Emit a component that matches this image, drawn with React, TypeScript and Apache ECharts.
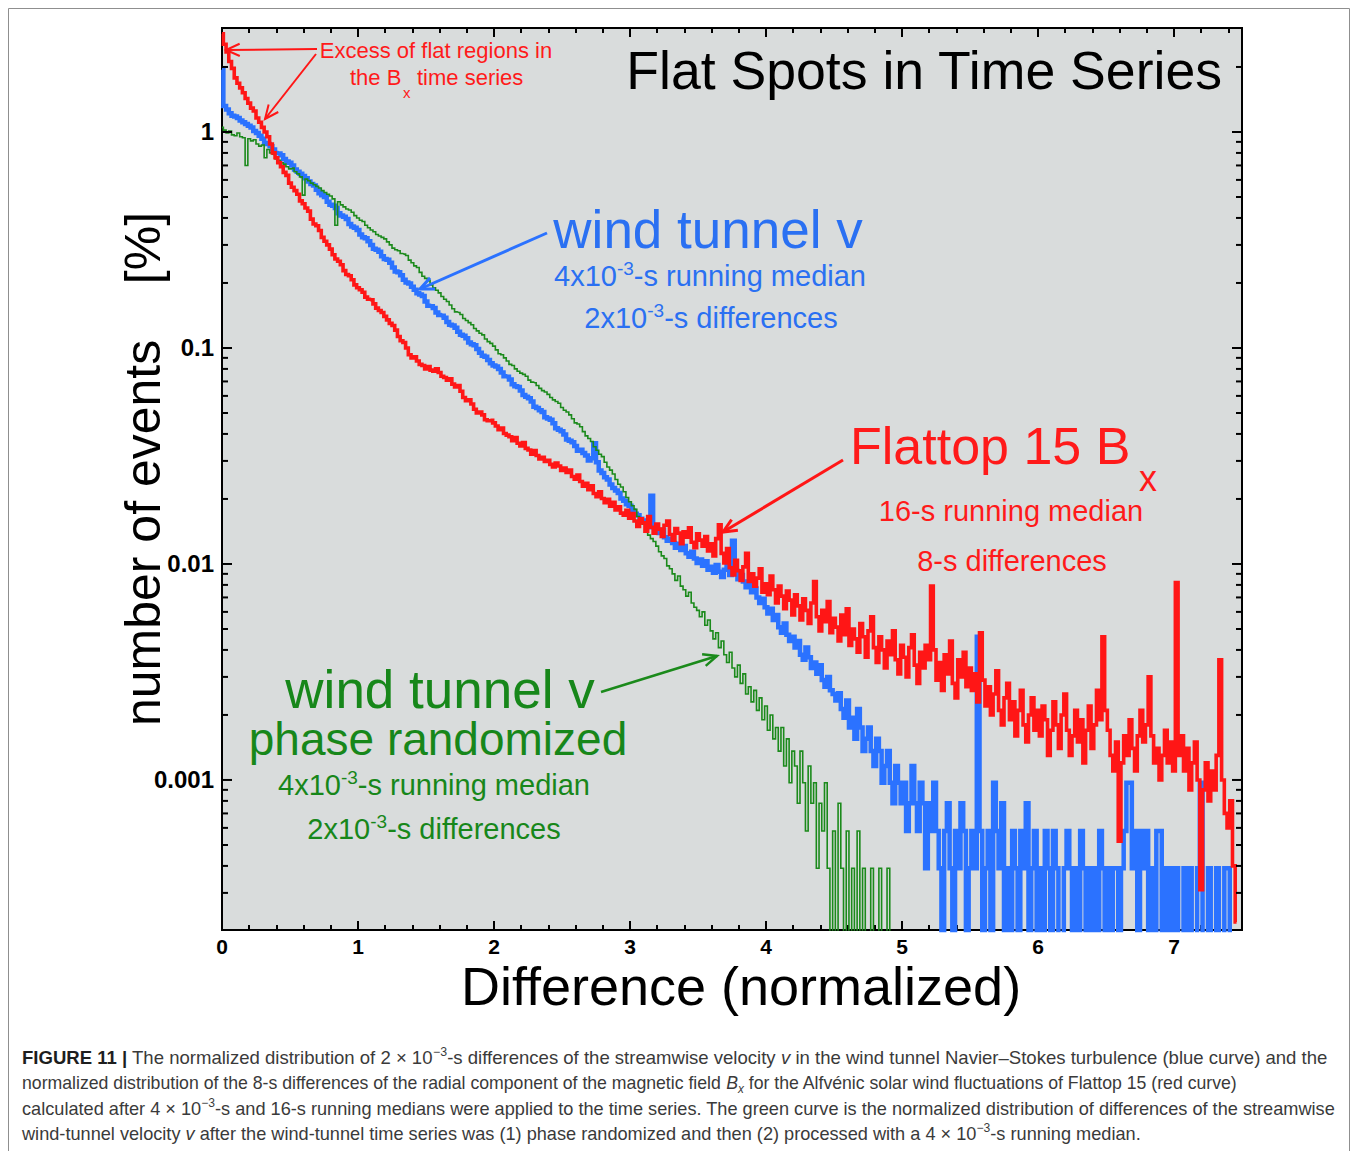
import React, { useEffect, useRef } from 'react';
import * as echarts from 'echarts';

const FONT = '"Liberation Sans", Arial, Helvetica, sans-serif';
const PAGE_W = 1358;
const PAGE_H = 1151;

// Histogram bins: value i is the bin centred at i * BIN_WIDTH
const BIN_WIDTH = 0.02;
const X_MIN = 0;
const X_MAX = 7.5;
const Y_MIN = 0.000202;
const Y_MAX = 3.03;

const xTickLabels = ['0', '1', '2', '3', '4', '5', '6', '7'];
const yTickLabels = ['0.001', '0.01', '0.1', '1'];
const yMajorTicks = [0.001, 0.01, 0.1, 1];
const yMinorTicks = [
  0.0003, 0.0004, 0.0005, 0.0006, 0.0007, 0.0008, 0.0009,
  0.002, 0.003, 0.004, 0.005, 0.006, 0.007, 0.008, 0.009,
  0.02, 0.03, 0.04, 0.05, 0.06, 0.07, 0.08, 0.09,
  0.2, 0.3, 0.4, 0.5, 0.6, 0.7, 0.8, 0.9,
  2,
];

// Flattop 15 Bx, 8-s differences, 16-s running median  [% of events]
const flattopBx = [
  2.85, 2.55, 2.35, 2.12, 1.97, 1.78, 1.68, 1.60, 1.52, 1.43, 1.36, 1.29, 1.25, 1.16, 1.11, 1.05, 1.00, 0.95, 0.88, 0.80, 0.76, 0.72, 0.69, 0.65, 0.63, 0.58,
  0.555, 0.535, 0.515, 0.48, 0.465, 0.445, 0.43, 0.395, 0.375, 0.368, 0.35, 0.325, 0.312, 0.30, 0.287, 0.27, 0.258, 0.252, 0.243, 0.228, 0.219, 0.216, 0.207, 0.196, 0.19,
  0.186, 0.181, 0.172, 0.168, 0.167, 0.160, 0.153, 0.149, 0.146, 0.140, 0.135, 0.130, 0.127, 0.121, 0.113, 0.108, 0.106, 0.100, 0.093, 0.090, 0.091, 0.087, 0.084, 0.083, 0.080,
  0.082, 0.079, 0.078, 0.080, 0.077, 0.074, 0.073, 0.071, 0.072, 0.068, 0.066, 0.067, 0.063, 0.059, 0.057, 0.0575, 0.055, 0.052, 0.050, 0.0505, 0.049, 0.0465, 0.046, 0.0462, 0.045,
  0.0435, 0.0418, 0.0426, 0.0402, 0.0395, 0.0388, 0.0372, 0.0385, 0.0362, 0.0352, 0.0365, 0.0343, 0.0337, 0.0322, 0.0335, 0.0318, 0.0306, 0.0312, 0.0298, 0.0302, 0.0289, 0.0281, 0.0293, 0.0284, 0.0271,
  0.0278, 0.0265, 0.0272, 0.0254, 0.0247, 0.0258, 0.0241, 0.0229, 0.0236, 0.0221, 0.0230, 0.0212, 0.0205, 0.0216, 0.0201, 0.0192, 0.0199, 0.0185, 0.0193, 0.0178, 0.0184, 0.0172, 0.0168, 0.0177, 0.0163,
  0.0171, 0.0158, 0.0149, 0.0162, 0.0155, 0.0142, 0.0166, 0.0148, 0.0139, 0.0153, 0.0145, 0.0134, 0.0151, 0.0158, 0.0137, 0.0129, 0.0146, 0.0139, 0.0124, 0.0141, 0.0133, 0.0147, 0.0126, 0.0119, 0.0138,
  0.0129, 0.0121, 0.0134, 0.0115, 0.0124, 0.0109, 0.0131, 0.0152, 0.0112, 0.0101, 0.0118, 0.0096, 0.0089, 0.0104, 0.0093, 0.0084, 0.0097, 0.0112, 0.0083, 0.0090, 0.0079, 0.0086, 0.0095, 0.0074, 0.0081,
  0.0072, 0.0088, 0.0076, 0.0066, 0.0079, 0.0071, 0.0062, 0.0075, 0.0068, 0.0058, 0.0072, 0.0064, 0.0055, 0.0069, 0.0061, 0.0053, 0.0066, 0.0083, 0.0057, 0.0049, 0.0061, 0.0054, 0.0067, 0.0048, 0.0056,
  0.0051, 0.0044, 0.0058, 0.0047, 0.0062, 0.0042, 0.0050, 0.0045, 0.0039, 0.0053, 0.0046, 0.0037, 0.0049, 0.0057, 0.0041, 0.0035, 0.0046, 0.0040, 0.0033, 0.0044, 0.0038, 0.0049, 0.0036, 0.0031, 0.0042,
  0.0037, 0.0030, 0.0041, 0.0047, 0.0034, 0.0028, 0.0039, 0.0033, 0.0042, 0.0036, 0.0079, 0.0040, 0.0029, 0.0035, 0.0026, 0.0038, 0.0031, 0.0044, 0.0028, 0.0024, 0.0036, 0.0030, 0.0039, 0.0027, 0.0033,
  0.0026, 0.0031, 0.0023, 0.0048, 0.0029, 0.0022, 0.0027, 0.0020, 0.0025, 0.0032, 0.0021, 0.0018, 0.0024, 0.0028, 0.0019, 0.0023, 0.0016, 0.0021, 0.0026, 0.0018, 0.0015, 0.0020, 0.0024, 0.0017, 0.0021,
  0.0016, 0.0022, 0.0019, 0.0013, 0.0017, 0.0023, 0.0018, 0.0014, 0.0020, 0.0025, 0.0017, 0.0013, 0.0016, 0.0021, 0.0015, 0.0019, 0.0012, 0.0017, 0.0022, 0.0014, 0.0018, 0.0026, 0.0019, 0.0046, 0.0021,
  0.0017, 0.0013, 0.0011, 0.0015, 0.00052, 0.0012, 0.0016, 0.0013, 0.0019, 0.0014, 0.0011, 0.0016, 0.0021, 0.0015, 0.0018, 0.0030, 0.0016, 0.0012, 0.0014, 0.0010, 0.0013, 0.0017, 0.0012, 0.0015, 0.0011,
  0.0082, 0.0013, 0.0016, 0.0011, 0.0014, 0.0009, 0.0012, 0.0015, 0.0010, 0.00031, 0.0009, 0.0012, 0.0008, 0.0011, 0.0009, 0.0013, 0.0036, 0.0010, 0.0007, 0.0006, 0.0008, 0.0004, 0.00022,
];

// Wind tunnel v, 2e-3-s differences, 4e-3-s running median
const windTunnelV = [
  1.94, 1.32, 1.27, 1.22, 1.19, 1.18, 1.16, 1.13, 1.11, 1.09, 1.07, 1.05, 1.01, 0.99, 0.96, 0.93, 0.89, 0.88, 0.86, 0.83, 0.80, 0.795, 0.78, 0.75, 0.73, 0.72,
  0.70, 0.67, 0.655, 0.64, 0.625, 0.61, 0.59, 0.575, 0.565, 0.54, 0.52, 0.51, 0.50, 0.475, 0.46, 0.455, 0.445, 0.42, 0.41, 0.405, 0.395, 0.375, 0.365, 0.36, 0.352,
  0.335, 0.326, 0.322, 0.312, 0.30, 0.288, 0.285, 0.279, 0.266, 0.258, 0.256, 0.248, 0.236, 0.226, 0.224, 0.217, 0.207, 0.201, 0.199, 0.192, 0.186, 0.179, 0.177, 0.174, 0.164,
  0.157, 0.156, 0.153, 0.146, 0.142, 0.141, 0.138, 0.132, 0.128, 0.127, 0.124, 0.119, 0.115, 0.114, 0.111, 0.106, 0.104, 0.103, 0.099, 0.095, 0.092, 0.091, 0.088, 0.085, 0.083,
  0.082, 0.080, 0.077, 0.074, 0.0735, 0.0715, 0.068, 0.0665, 0.066, 0.0635, 0.0605, 0.0595, 0.0585, 0.0565, 0.0535, 0.0528, 0.0515, 0.0505, 0.0478, 0.0472, 0.0465, 0.0448, 0.0425, 0.0418, 0.0412,
  0.0398, 0.0377, 0.0372, 0.0366, 0.0352, 0.0334, 0.0338, 0.0326, 0.0318, 0.0301, 0.0309, 0.0362, 0.0296, 0.0271, 0.0264, 0.0252, 0.0246, 0.0233, 0.0225, 0.0219, 0.0213, 0.0201, 0.0196, 0.0189, 0.0186,
  0.0177, 0.0171, 0.0168, 0.0162, 0.0156, 0.0159, 0.0148, 0.0207, 0.0151, 0.0143, 0.0139, 0.0144, 0.0133, 0.0128, 0.0131, 0.0125, 0.0119, 0.0124, 0.0116, 0.0121, 0.0112, 0.0108, 0.0114, 0.0106, 0.0101,
  0.0105, 0.0098, 0.0103, 0.0094, 0.0097, 0.0091, 0.0099, 0.0092, 0.0087, 0.0094, 0.0101, 0.0089, 0.0128, 0.0093, 0.0085, 0.0089, 0.0083, 0.0078, 0.0081, 0.0074, 0.0077, 0.0070, 0.0066, 0.0069, 0.0063,
  0.0059, 0.0062, 0.0055, 0.0058, 0.0051, 0.0048, 0.0053, 0.0047, 0.0044, 0.0046, 0.0041, 0.0044, 0.0038, 0.0036, 0.0041, 0.0037, 0.0033, 0.0035, 0.0031, 0.0034, 0.0029, 0.0027, 0.0030, 0.0026, 0.0025,
  0.00233, 0.00252, 0.00213, 0.00194, 0.00233, 0.00175, 0.00194, 0.00155, 0.00213, 0.00175, 0.00136, 0.00155, 0.00175, 0.00136, 0.00116, 0.00155, 0.00136, 0.00097, 0.00116, 0.00136, 0.00097, 0.00078, 0.00116, 0.00097, 0.00078,
  0.00097, 0.00058, 0.00078, 0.00116, 0.00078, 0.00058, 0.00097, 0.00078, 0.00039, 0.00078, 0.00058, 0.00097, 0.00058, 0.00039, 0.00019, 0.00058, 0.00078, 0.00039, 0.00019, 0.00058, 0.00039, 0.00078, 0.00058, 0.00019, 0.00039,
  0.00058, 0.00039, 0.0046, 0.00058, 0.00019, 0.00039, 0.00058, 0.00019, 0.00097, 0.00058, 0.00039, 0.00078, 0.00019, 0.00039, 0.00019, 0.00058, 0.00039, 0.00019, 0.00058, 0.00039, 0.00078, 0.00019, 0.00039, 0.00058, 0.00019,
  0.00039, 0.00019, 0.00058, 0.00039, 0.00019, 0.00058, 0.00039, 0.00019, 0.00019, 0.00039, 0.00058, 0.00039, 0.00019, 0.00039, 0.00019, 0.00058, 0.00039, 0.00019, 0.00039, 0.00019, 0.00039, 0.00019, 0.00058, 0.00039, 0.00019,
  0.00039, 0.00019, 0.00039, 0.00039, 0.00019, 0.00039, 0.00058, 0.00097, 0.00097, 0.00039, 0.00058, 0.00019, 0.00058, 0.00039, 0.00058, 0.00019, 0.00039, 0.00019, 0.00058, 0.00058, 0.00019, 0.00039, 0.00019, 0.00039, 0.00019,
  0.00039, 0.00019, 0.00019, 0.00039, 0.00019, 0.00039, 0.00019, 0.00019, 0.00039, 0.00097, 0.00019, 0.00019, 0.00039, 0.00019, 0.00019, 0.00039, 0.00019, 0.00019, 0.00039, 0.00039, 0.00019, 0.00019, 0.00019,
];

// Wind tunnel v after phase randomisation (no events beyond the last bin)
const windTunnelPhaseRandomized = [
  1.05, 1.02, 0.99, 1.01, 0.97, 0.96, 0.99, 0.95, 0.94, 0.70, 0.93, 0.91, 0.92, 0.88, 0.86, 0.87, 0.76, 0.83, 0.80, 0.79, 0.75, 0.74, 0.72, 0.71, 0.69, 0.675,
  0.68, 0.655, 0.64, 0.62, 0.51, 0.605, 0.595, 0.58, 0.57, 0.56, 0.55, 0.535, 0.525, 0.515, 0.505, 0.49, 0.37, 0.475, 0.46, 0.45, 0.44, 0.435, 0.425, 0.41, 0.40,
  0.39, 0.385, 0.37, 0.36, 0.352, 0.345, 0.335, 0.33, 0.325, 0.32, 0.31, 0.30, 0.29, 0.285, 0.282, 0.274, 0.272, 0.268, 0.255, 0.248, 0.24, 0.236, 0.224, 0.215, 0.21,
  0.205, 0.196, 0.19, 0.185, 0.18, 0.173, 0.168, 0.164, 0.158, 0.152, 0.147, 0.146, 0.143, 0.137, 0.134, 0.131, 0.128, 0.123, 0.12, 0.117, 0.115, 0.11, 0.107, 0.105, 0.102,
  0.098, 0.094, 0.093, 0.09, 0.087, 0.084, 0.083, 0.08, 0.078, 0.0765, 0.0755, 0.074, 0.071, 0.0695, 0.069, 0.067, 0.065, 0.0635, 0.0625, 0.061, 0.059, 0.0575, 0.0565, 0.0555, 0.053,
  0.0515, 0.0505, 0.049, 0.047, 0.045, 0.0445, 0.0432, 0.041, 0.0392, 0.0381, 0.0369, 0.0349, 0.0336, 0.0322, 0.0314, 0.0296, 0.0281, 0.0272, 0.0261, 0.0246, 0.0234, 0.0227, 0.0216, 0.0203, 0.0194,
  0.0186, 0.0179, 0.0166, 0.0158, 0.0153, 0.0148, 0.0136, 0.0131, 0.0127, 0.0121, 0.0114, 0.0109, 0.0106, 0.0098, 0.0095, 0.0090, 0.0084, 0.0088, 0.0079, 0.0076, 0.0071, 0.0074, 0.0066, 0.0063, 0.0061,
  0.0057, 0.0060, 0.0052, 0.0055, 0.0049, 0.0045, 0.0048, 0.0041, 0.0044, 0.0038, 0.0035, 0.0039, 0.0033, 0.0030, 0.0034, 0.0028, 0.0031, 0.0025, 0.0027, 0.0023, 0.0026, 0.0021, 0.0024, 0.0019, 0.0022,
  0.0017, 0.0020, 0.00155, 0.00175, 0.00136, 0.00175, 0.00116, 0.00155, 0.00097, 0.00136, 0.00116, 0.00078, 0.00136, 0.00097, 0.00058, 0.00116, 0.00078, 0.00097, 0.00039, 0.00078, 0.00058, 0.00097, 0.00039, 0.00019, 0.00058,
  0.00019, 0.00078, 0.00039, 0.00019, 0.00058, 0.00019, 0.00039, 0.00019, 0.00058, 0.00019, 0.00039, 0.00019, 0.00019, 0.00039, 0.00019, 0.00019, 0.00039, 0.00019, 0.00019, 0.00039, 0.00019,
];

const RED = '#ff1616';
const BLUE = '#2b72ff';
const GREEN = '#1b8a1b';
const RED_TEXT = '#ff1a1a';
const BLUE_TEXT = '#2a70f2';
const GREEN_TEXT = '#17871a';
const PLOT_BG = '#d9dcdc';

const binned = (vals: (number | null)[]) =>
  vals.map((v, i) => [Math.round(i * BIN_WIDTH * 1000) / 1000, v]);

function arrow(x1: number, y1: number, x2: number, y2: number, color: string, width = 2.5): any[] {
  const a = Math.atan2(y2 - y1, x2 - x1);
  const L = 15;
  const s = 0.42;
  return [
    { type: 'line', z: 60, shape: { x1, y1, x2, y2 }, style: { stroke: color, lineWidth: width } },
    {
      type: 'polyline',
      z: 60,
      shape: {
        points: [
          [x2 - L * Math.cos(a - s), y2 - L * Math.sin(a - s)],
          [x2, y2],
          [x2 - L * Math.cos(a + s), y2 - L * Math.sin(a + s)],
        ],
      },
      style: { stroke: color, lineWidth: width, fill: null },
    },
  ];
}

function label(text: string, x: number, y: number, size: number, color: string, align = 'left', extra: any = {}): any {
  return {
    type: 'text',
    x,
    y,
    z: 60,
    style: {
      text,
      fontSize: size,
      fontFamily: FONT,
      fill: color,
      align,
      verticalAlign: 'middle',
      textAlign: align,
      textVerticalAlign: 'middle',
      ...extra,
    },
  };
}

// text with one superscript part, e.g. 4x10^-3-s running median
function supLabel(before: string, sup: string, after: string, x: number, y: number, size: number, color: string): any {
  return {
    type: 'text',
    x,
    y,
    z: 60,
    style: {
      text: `{m|${before}}{s|${sup}}{m|${after}}`,
      fill: color,
      align: 'center',
      verticalAlign: 'middle',
      textAlign: 'center',
      textVerticalAlign: 'middle',
      rich: {
        m: { fontSize: size, fontFamily: FONT, fill: color, lineHeight: Math.round(size * 1.2) },
        s: { fontSize: Math.round(size * 0.64), fontFamily: FONT, fill: color, verticalAlign: 'top', lineHeight: Math.round(size * 0.64) },
      },
    },
  };
}

const CAPTION_SIZE = 18;
const captionRich = {
  n: { fontSize: CAPTION_SIZE, fontFamily: FONT, fill: '#3a3a3a', lineHeight: 24 },
  b: { fontSize: CAPTION_SIZE, fontFamily: FONT, fill: '#1e1e1e', fontWeight: 'bold', lineHeight: 24 },
  i: { fontSize: CAPTION_SIZE, fontFamily: FONT, fill: '#3a3a3a', fontStyle: 'italic', lineHeight: 24 },
  s: { fontSize: 12, fontFamily: FONT, fill: '#3a3a3a', verticalAlign: 'top', lineHeight: 14 },
  sb: { fontSize: 12, fontFamily: FONT, fill: '#3a3a3a', fontStyle: 'italic', verticalAlign: 'bottom', lineHeight: 12 },
};
const captionLines = [
  '{b|FIGURE 11 |}{n| The normalized distribution of 2 × 10}{s|−3}{n|-s differences of the streamwise velocity }{i|v}{n| in the wind tunnel Navier–Stokes turbulence (blue curve) and the}',
  '{n|normalized distribution of the 8-s differences of the radial component of the magnetic field }{i|B}{sb|x}{n| for the Alfvénic solar wind fluctuations of Flattop 15 (red curve)}',
  '{n|calculated after 4 × 10}{s|−3}{n|-s and 16-s running medians were applied to the time series. The green curve is the normalized distribution of differences of the streamwise}',
  '{n|wind-tunnel velocity }{i|v}{n| after the wind-tunnel time series was (1) phase randomized and then (2) processed with a 4 × 10}{s|−3}{n|-s running median.}',
];
const captionStretch = [1.031, 0.982, 1.009, 1.009];

function buildGraphics(): any[] {
  const g: any[] = [];
  // figure frame
  g.push({ type: 'rect', z: 1, shape: { x: 8.5, y: 8.5, width: 1341, height: 1160 }, style: { fill: null, stroke: '#8f8f8f', lineWidth: 1 } });

  // axis titles and headline
  g.push(label('Difference (normalized)', 741, 986, 54, '#000', 'center'));
  g.push({ ...label('number of events    [%]', 143, 469, 50, '#000', 'center'), rotation: Math.PI / 2 });
  g.push(label('Flat Spots in Time Series', 1222, 70, 53.6, '#000', 'right'));

  // excess of flat regions
  g.push(label('Excess of flat regions in', 436, 50, 22, RED_TEXT, 'center'));
  g.push(label('the B', 350, 77, 22, RED_TEXT, 'left'));
  g.push(label('x', 403, 92, 15, RED_TEXT, 'left'));
  g.push(label('time series', 417, 77, 22, RED_TEXT, 'left'));
  g.push(...arrow(317, 49, 226, 50, RED, 2));
  g.push(...arrow(316, 54, 265, 119, RED, 2));

  // wind tunnel v
  g.push(label('wind tunnel v', 708, 229, 53, BLUE_TEXT, 'center'));
  g.push(supLabel('4x10', '-3', '-s running median', 710, 276, 29, BLUE_TEXT));
  g.push(supLabel('2x10', '-3', '-s differences', 711, 318, 29, BLUE_TEXT));
  g.push(...arrow(547, 233, 420, 289, BLUE, 3));

  // Flattop 15 Bx
  g.push(label('Flattop 15 B', 850, 446, 52, RED_TEXT, 'left'));
  g.push(label('x', 1139, 478, 36, RED_TEXT, 'left'));
  g.push(label('16-s running median', 1011, 511, 29, RED_TEXT, 'center'));
  g.push(label('8-s differences', 1012, 561, 29, RED_TEXT, 'center'));
  g.push(...arrow(843, 460, 723, 532, RED, 3));

  // phase randomized wind tunnel v
  g.push(label('wind tunnel v', 440, 689, 53, GREEN_TEXT, 'center'));
  g.push(label('phase randomized', 438, 739, 46, GREEN_TEXT, 'center'));
  g.push(supLabel('4x10', '-3', '-s running median', 434, 785, 29, GREEN_TEXT));
  g.push(supLabel('2x10', '-3', '-s differences', 434, 829, 29, GREEN_TEXT));
  g.push(...arrow(601, 692, 717, 656, GREEN, 2.5));

  // caption
  captionLines.forEach((line, i) => {
    g.push({
      type: 'text',
      x: 22,
      y: 1058 + i * 25.4,
      scaleX: captionStretch[i],
      z: 60,
      style: { text: line, rich: captionRich, align: 'left', verticalAlign: 'middle', textAlign: 'left', textVerticalAlign: 'middle' },
    });
  });
  return g;
}

const yLabel = (v: number) => {
  const e = Math.log10(v);
  const r = Math.round(e);
  if (Math.abs(e - r) > 1e-6) return '';
  return yTickLabels[r + 3] ?? '';
};
const xLabel = (v: number) => {
  const r = Math.round(v);
  if (Math.abs(v - r) > 1e-6) return '';
  return xTickLabels[r] ?? '';
};

const yTickRows = [
  ...yMajorTicks.map((v) => [X_MIN, v, 1]),
  ...yMinorTicks.map((v) => [X_MIN, v, 0]),
];

function buildOption(): any {
  const xAxisBase = {
    type: 'value',
    min: X_MIN,
    max: X_MAX,
    interval: 1,
    splitLine: { show: false },
    axisLine: { show: false },
    axisTick: { show: true, inside: true, length: 9, lineStyle: { color: '#000', width: 2 } },
    minorTick: { show: true, splitNumber: 5, length: 5, lineStyle: { color: '#000', width: 2 } },
  };
  const curve = (name: string, data: (number | null)[], color: string, width: number, z: number) => ({
    name,
    type: 'line',
    step: 'middle',
    showSymbol: false,
    symbol: 'none',
    clip: true,
    z,
    lineStyle: { color, width, join: 'miter' },
    data: binned(data),
  });
  return {
    animation: false,
    backgroundColor: '#fff',
    grid: {
      left: 222,
      top: 28,
      width: 1020,
      height: 902,
      show: true,
      backgroundColor: PLOT_BG,
      borderColor: '#000',
      borderWidth: 2,
      containLabel: false,
    },
    xAxis: [
      {
        ...xAxisBase,
        position: 'bottom',
        axisLabel: { show: true, formatter: xLabel, fontSize: 21, fontWeight: 'bold', color: '#000', fontFamily: FONT, margin: 6 },
      },
      { ...xAxisBase, position: 'top', axisLabel: { show: false } },
    ],
    yAxis: [
      {
        type: 'log',
        logBase: 10,
        min: Y_MIN,
        max: Y_MAX,
        position: 'left',
        splitLine: { show: false },
        axisLine: { show: false },
        axisTick: { show: false },
        axisLabel: { show: true, formatter: yLabel, fontSize: 24, fontWeight: 'bold', color: '#000', fontFamily: FONT, margin: 8 },
      },
    ],
    graphic: { elements: buildGraphics() },
    series: [
      curve('wind tunnel v', windTunnelV, BLUE, 4.5, 2),
      curve('wind tunnel v phase randomized', windTunnelPhaseRandomized, GREEN, 1.6, 3),
      curve('Flattop 15 Bx', flattopBx, RED, 3.6, 4),
      {
        name: 'log ticks',
        type: 'custom',
        silent: true,
        clip: false,
        z: 10,
        renderItem: (_params: any, api: any) => {
          const v = api.value(1);
          const major = api.value(2) === 1;
          const l = api.coord([X_MIN, v]);
          const r = api.coord([X_MAX, v]);
          const len = major ? 10 : 6;
          return {
            type: 'group',
            children: [
              { type: 'line', shape: { x1: l[0], y1: l[1], x2: l[0] + len, y2: l[1] }, style: { stroke: '#000', lineWidth: 2 } },
              { type: 'line', shape: { x1: r[0] - len, y1: r[1], x2: r[0], y2: r[1] }, style: { stroke: '#000', lineWidth: 2 } },
            ],
          };
        },
        data: yTickRows,
      },
    ],
  };
}

export default function App() {
  const ref = useRef<HTMLDivElement>(null);
  useEffect(() => {
    if (!ref.current) return;
    const chart = echarts.init(ref.current, undefined, { renderer: 'svg' });
    chart.setOption(buildOption());
    return () => chart.dispose();
  }, []);
  return (
    <div
      ref={ref}
      style={{ position: 'absolute', left: 0, top: 0, width: PAGE_W, height: PAGE_H, background: '#fff' }}
    />
  );
}
